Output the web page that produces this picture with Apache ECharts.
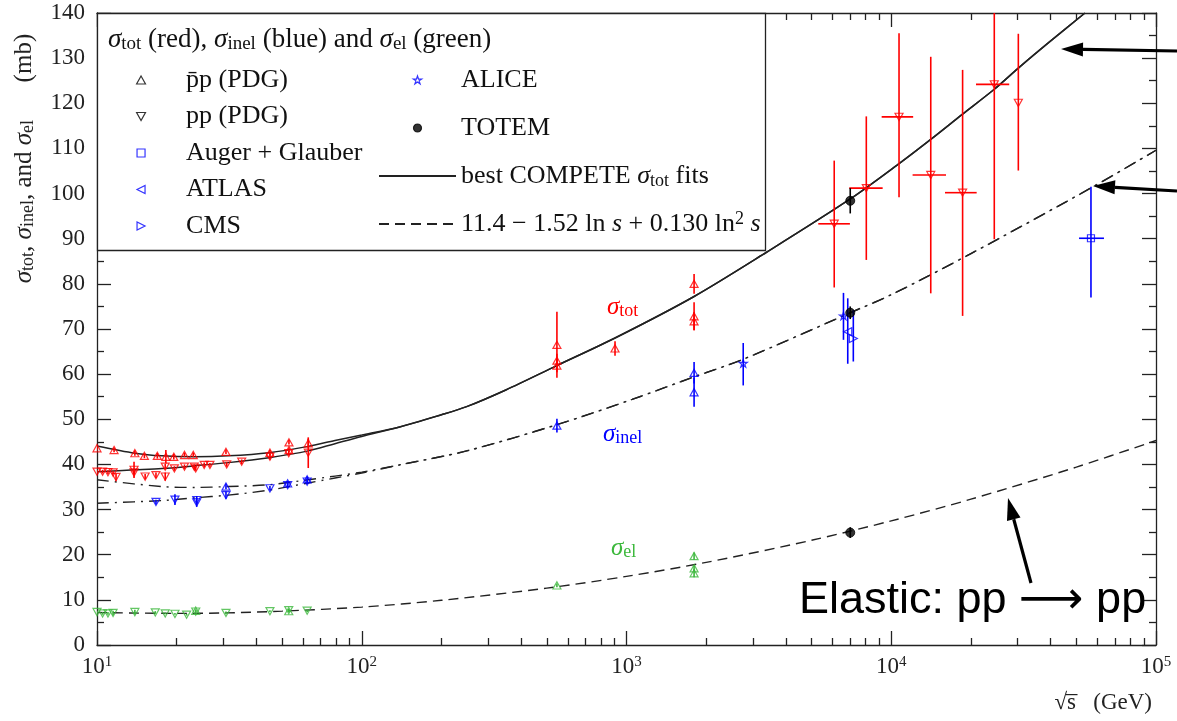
<!DOCTYPE html>
<html><head><meta charset="utf-8">
<script src="https://cdn.jsdelivr.net/npm/echarts@6/dist/echarts.min.js"></script>
<style>html,body{margin:0;padding:0;background:#fff}#c{width:1177px;height:721px}</style>
</head><body><div id="c"></div>
<script>
// ---------------- tick labels ----------------
const xTickValues = [10, 100, 1000, 10000, 100000];
const xTickExponents = ['1', '2', '3', '4', '5'];
const xMinorMultipliers = [2, 3, 4, 5, 6, 7, 8, 9];
const xMinorDecades = [10, 100, 1000, 10000];
const yTickLabels = ['0','10','20','30','40','50','60','70','80','90','100','110','120','130','140'];

// ---------------- data: [sqrt(s) GeV, sigma mb, error mb] ----------------
const pbarpTot = [[10.0,43.6,0.5],[11.6,43.2,0.5],[13.9,42.5,0.6],[15.1,41.9,0.5],[16.9,41.9,0.6],[18.2,41.7,1.5],[19.5,41.7,0.6],[21.4,42.1,0.5],[23.1,42.1,0.5],[30.7,42.8,0.5],[45.0,42.6,0.6],[53.1,44.9,0.5],[53.1,43.2,0.5],[62.8,44.7,1.0],
  [546,66.5,7.3],[546,63.0,1.5],[546,61.9,1.5],[905,65.7,1.6],[1800,80.0,2.2],[1800,72.8,3.1],[1800,71.7,2.0]];
const ppTot = [[10.0,38.4,0.4],[10.5,38.4,0.4],[11.0,38.3,0.4],[11.5,38.2,0.4],[11.8,37.2,0.8],[13.8,38.8,1.8],[13.8,38.2,0.5],[15.2,37.3,0.6],[16.7,37.6,0.6],[18.1,37.3,0.9],[18.1,39.5,0.6],[19.6,39.1,0.5],[21.4,39.5,0.5],[23.3,39.5,0.5],[23.6,39.1,0.5],[25.4,39.9,0.5],[26.7,39.9,0.4],[30.9,40.0,0.5],[35.2,40.6,0.5],[45.0,41.7,0.6],[53.0,42.5,0.5],[62.8,42.6,3.4]];
// cosmic-ray pp total: [sqrt(s), sigma, low, high, sqrt(s) low, sqrt(s) high]
const ppTotCosmic = [[6090,93.3,79.2,107.3,5300,6980],[8050,101.2,85.3,117.1,6940,9280],[10700,117.0,99.2,135.5,9200,12100],[14100,104.1,77.9,130.3,12040,16100],[18600,100.2,72.9,127.4,15960,21020],[24500,124.2,89.9,158.0,20900,27900],[30200,120.1,105.1,135.4,30200,30200]];
const pbarpInel = [[30.7,35.1,0.6],[52.5,35.8,0.5],[62.2,36.7,0.6],[546,48.6,1.5],[1800,60.3,2.4],[1800,56.0,3.2]];
const ppInel = [[16.7,31.7,0.5],[19.7,32.2,1.2],[23.8,32.1,0.9],[23.8,31.6,1.0],[30.7,33.2,0.8],[45.0,34.7,0.5],[52.5,35.4,0.5],[62.2,36.2,0.5]];
const pbarpEl = [[23.6,7.6,0.3],[53.0,7.5,0.3],[546,13.2,0.4],[1800,19.7,0.8],[1800,17.0,0.6],[1800,15.9,0.9]];
const ppEl = [[10.0,7.3,0.3],[10.5,7.0,0.3],[11.0,7.0,0.3],[11.5,7.1,0.5],[13.9,7.3,0.5],[16.6,7.2,0.3],[18.1,7.0,0.2],[19.7,6.9,0.2],[21.8,6.7,0.2],[23.6,7.4,0.4],[30.7,7.1,0.3],[45.0,7.5,0.2],[53.0,7.7,0.3],[62.2,7.6,0.3]];
const augerInel = [[56800,90.1,77.0,101.5,51200,63600]];
const atlasInel = [[6850,69.4,62.3,76.8]];
const cmsInel = [[7190,67.9,62.8,74.2]];
const aliceInel = [[2760,62.4,57.5,66.9],[6600,72.9,67.6,78.0]];
const totemTot = [[7000,98.4,95.6,101.2]];
const totemInel = [[7000,73.6,72.2,75.0]];
const totemEl = [[7000,24.9,23.7,26.1]];

// ---------------- fitted curves: [sqrt(s), sigma] ----------------
const fitTotHigh = [[139,48.3],[200,51.0],[249,52.8],[350,56.5],[546,61.9],[905,68.0],[1800,77.2],[3380,87.0],[7000,98.8],[10800,106.8],[14100,112.0],[18600,117.6],[24500,123.1],[30200,127.8],[39600,133.6],[53900,140.0]];
const fitTotPbarpLow = [[10,44.1],[13.9,42.5],[17.6,41.9],[23.4,41.7],[31.3,41.9],[44.6,42.6],[62.8,44.0],[79.2,45.3],[100,46.5]];
const fitTotPpLow = [[10,38.4],[13.9,38.8],[17.6,39.1],[23.4,39.7],[31.3,40.4],[44.6,41.5],[62.8,43.0],[79.2,44.6],[100,46.2]];
const fitInelHigh = [[139,39.9],[249,43.0],[546,48.8],[1050,54.4],[1800,59.4],[2760,63.3],[7000,73.6],[10000,77.6],[20000,86.7],[57000,101.3],[100000,109.6]];
const fitInelPbarpLow = [[10,36.6],[17.6,35.1],[23.4,34.9],[31.3,35.1],[44.6,35.5],[62.8,36.6],[100,38.3]];
const fitInelPpLow = [[10,31.4],[17.6,32.0],[23.4,32.6],[31.3,33.2],[44.6,34.3],[62.8,35.9],[100,38.1]];
const fitEl = [[10,7.2],[20,7.0],[30,7.1],[50,7.5],[100,8.4],[200,9.9],[500,12.6],[1000,15.2],[2000,18.3],[5000,23.2],[10000,27.5],[20000,32.3],[50000,39.4],[100000,45.3]];

// ---------------- styling ----------------
const SERIF = '"Liberation Serif", "DejaVu Serif", serif';
const SANS = '"Liberation Sans", "DejaVu Sans", sans-serif';
const RED = '#ff0000', BLUE = '#0000ff', GREEN = '#3cb83c', BLACK = '#000000';
const SYM = {
  up: 'path://M5,0L10,9L0,9Z',
  down: 'path://M0,0L10,0L5,9Z',
  left: 'path://M10,0L10,10L0,5Z',
  right: 'path://M0,0L0,10L10,5Z',
  square: 'path://M0,0L10,0L10,10L0,10Z',
  star: 'path://M5,0L6.2,3.6L10,3.6L6.9,5.8L8.1,9.5L5,7.2L1.9,9.5L3.1,5.8L0,3.6L3.8,3.6Z'
};
const NAME_FORMULA = '11.4 − 1.52 ln s + 0.130 ln² s';
const NAME_FIT = 'best COMPETE σtot fits';
const legendText = {};
legendText[NAME_FIT] = 'best COMPETE {i|σ}{sub|tot} fits';
legendText[NAME_FORMULA] = '11.4 − 1.52 ln {i|s} + 0.130 ln{sup|2} {i|s}';

function richSet(size, lh) {
  return {
    i: {fontFamily: SERIF, fontStyle: 'italic', fontSize: size, lineHeight: lh},
    sub: {fontFamily: SERIF, fontSize: Math.round(size * 0.7), lineHeight: Math.round(size * 0.55), verticalAlign: 'bottom'},
    sup: {fontFamily: SERIF, fontSize: Math.round(size * 0.68), lineHeight: Math.round(size * 0.55), verticalAlign: 'top'}
  };
}

// ---------------- error bars ----------------
const errRows = [], errColors = [];
function addSym(arr, color) { arr.forEach(d => { errRows.push([d[0], d[1], d[1] - d[2], d[1] + d[2], d[0], d[0]]); errColors.push(color); }); }
function addAsym(arr, color) { arr.forEach(d => { errRows.push([d[0], d[1], d[2], d[3], d.length > 4 ? d[4] : d[0], d.length > 4 ? d[5] : d[0]]); errColors.push(color); }); }
addSym(pbarpTot, RED); addSym(ppTot, RED); addAsym(ppTotCosmic, RED);
addSym(pbarpInel, BLUE); addSym(ppInel, BLUE); addSym(pbarpEl, GREEN); addSym(ppEl, GREEN);
addAsym(augerInel, BLUE); addAsym(atlasInel, BLUE); addAsym(cmsInel, BLUE); addAsym(aliceInel, BLUE);
addAsym(totemTot, BLACK); addAsym(totemInel, BLACK); addAsym(totemEl, BLACK);

function pts(arr, color) { return arr.map(d => ({value: [d[0], d[1]], itemStyle: {borderColor: color}})); }
function hollow(sym, data, name, size) {
  return {
    type: 'scatter', name: name, symbol: sym, symbolSize: size || 8, symbolKeepAspect: true, z: 4,
    itemStyle: {color: 'rgba(255,255,255,0)', borderColor: BLACK, borderWidth: 1.2},
    data: data
  };
}
function curve(name, data, type, width) {
  return {type: 'line', name: name, data: data, smooth: 0.3, symbol: 'none', showSymbol: false, z: 2, silent: true,
    lineStyle: {color: '#222', width: width || 1.4, type: type}};
}

const minorTicks = [];
xMinorDecades.forEach(d => xMinorMultipliers.forEach(m => minorTicks.push(d * m)));

function legendItem(name, icon, color, fill) {
  return {name: name, icon: icon, itemStyle: {color: fill || 'rgba(255,255,255,0)', borderColor: color, borderWidth: 1.2}};
}
function legendLine(name) {
  return {name: name, itemStyle: {color: 'rgba(0,0,0,0)', borderColor: 'rgba(0,0,0,0)', borderWidth: 0, opacity: 0}};
}

function arrow(x1, y1, x2, y2) {
  const ang = Math.atan2(y2 - y1, x2 - x1), L = 22, W = 7;
  const bx = x2 - L * Math.cos(ang), by = y2 - L * Math.sin(ang);
  const px = -Math.sin(ang) * W, py = Math.cos(ang) * W;
  return [
    {type: 'line', z: 20, shape: {x1: x1, y1: y1, x2: bx, y2: by}, style: {stroke: '#000', lineWidth: 3.2}},
    {type: 'polygon', z: 20, shape: {points: [[x2, y2], [bx + px, by + py], [bx - px, by - py]]}, style: {fill: '#000'}}
  ];
}

const LEG_FONT = 26, LEG_LH = 28;
const legendTextStyle = {fontFamily: SERIF, fontSize: LEG_FONT, lineHeight: LEG_LH, color: '#111', rich: richSet(LEG_FONT, LEG_LH)};

const chart = echarts.init(document.getElementById('c'), null, {renderer: 'canvas'});
const axisLineStyle = {color: '#222', width: 1.3};
const option = {
  backgroundColor: '#ffffff',
  animation: false,
  textStyle: {fontFamily: SERIF},
  grid: {left: 97, right: 21, top: 13, bottom: 76},
  title: {
    text: '{i|σ}{sub|tot} (red), {i|σ}{sub|inel} (blue) and {i|σ}{sub|el} (green)',
    left: 108, top: 26, padding: 0, z: 12,
    textStyle: {fontFamily: SERIF, fontSize: 27, lineHeight: LEG_LH, fontWeight: 'normal', color: '#111', rich: richSet(27, LEG_LH)}
  },
  legend: [
    {
      id: 'legLeft', orient: 'vertical', left: 136, top: 66, padding: 0, itemWidth: 80, itemHeight: 8, itemGap: 8.5,
      align: 'left', selectedMode: false, z: 12, symbolKeepAspect: true,
      textStyle: legendTextStyle,
      formatter: n => legendText[n] || n,
      data: [legendItem('p\u0304p (PDG)', SYM.up, BLACK), legendItem('pp (PDG)', SYM.down, BLACK),
             legendItem('Auger + Glauber', SYM.square, BLUE), legendItem('ATLAS', SYM.left, BLUE), legendItem('CMS', SYM.right, BLUE)]
    },
    {
      id: 'legRight', orient: 'vertical', left: 378, top: 66, padding: 0, itemWidth: 77, itemHeight: 8, itemGap: 20,
      align: 'left', selectedMode: false, z: 12, symbolKeepAspect: true,
      textStyle: legendTextStyle,
      formatter: n => legendText[n] || n,
      data: [legendItem('ALICE', SYM.star, BLUE), legendItem('TOTEM', 'circle', BLACK, BLACK),
             legendLine(NAME_FIT), legendLine(NAME_FORMULA)]
    }
  ],
  xAxis: [
    {
      type: 'log', logBase: 10, min: 10, max: 100000, position: 'bottom',
      axisLine: {show: true, lineStyle: axisLineStyle},
      axisTick: {show: true, inside: true, length: 14, lineStyle: axisLineStyle},
      splitLine: {show: false},
      axisLabel: {
        margin: 10, color: '#222', fontFamily: SERIF, fontSize: 23, lineHeight: 24,
        formatter: v => { const i = xTickValues.findIndex(t => Math.abs(t - v) / t < 1e-6); return i < 0 ? '' : '{b|10}{e|' + xTickExponents[i] + '}'; },
        rich: {b: {fontFamily: SERIF, fontSize: 23, lineHeight: 24, color: '#222'},
               e: {fontFamily: SERIF, fontSize: 15, lineHeight: 12, verticalAlign: 'top', color: '#222'}}
      },
      name: '\u221As\u0305   (GeV)', nameLocation: 'end', nameGap: -4,
      nameTextStyle: {fontFamily: SERIF, fontSize: 23, color: '#222', align: 'right', verticalAlign: 'top', padding: [46, 0, 0, 0]}
    },
    {
      type: 'log', logBase: 10, min: 10, max: 100000, position: 'bottom',
      axisLine: {show: false}, axisLabel: {show: false}, splitLine: {show: false},
      axisTick: {show: true, inside: true, length: 7, customValues: minorTicks, lineStyle: axisLineStyle}
    },
    {
      type: 'log', logBase: 10, min: 10, max: 100000, position: 'top',
      axisLine: {show: true, lineStyle: axisLineStyle}, axisLabel: {show: false}, splitLine: {show: false},
      axisTick: {show: true, inside: true, length: 14, lineStyle: axisLineStyle}
    },
    {
      type: 'log', logBase: 10, min: 10, max: 100000, position: 'top',
      axisLine: {show: false}, axisLabel: {show: false}, splitLine: {show: false},
      axisTick: {show: true, inside: true, length: 7, customValues: minorTicks, lineStyle: axisLineStyle}
    }
  ],
  yAxis: [
    {
      type: 'value', min: 0, max: 140, interval: 10, position: 'left',
      axisLine: {show: true, lineStyle: axisLineStyle},
      axisTick: {show: true, inside: true, length: 14, lineStyle: axisLineStyle},
      minorTick: {show: true, splitNumber: 2, length: 7, lineStyle: axisLineStyle},
      splitLine: {show: false},
      axisLabel: {margin: 12, color: '#222', fontFamily: SERIF, fontSize: 23, formatter: v => yTickLabels[Math.round(v / 10)]},
      name: '{i|σ}{sub|tot}, {i|σ}{sub|inel}, and {i|σ}{sub|el}      (mb)',
      nameLocation: 'middle', nameRotate: 90, nameGap: 60,
      nameTextStyle: {fontFamily: SERIF, fontSize: 25, lineHeight: 26, color: '#222', padding: [0, 0, 0, 341], rich: richSet(25, 26)}
    },
    {
      type: 'value', min: 0, max: 140, interval: 10, position: 'right',
      axisLine: {show: true, lineStyle: axisLineStyle},
      axisTick: {show: true, inside: true, length: 14, lineStyle: axisLineStyle},
      minorTick: {show: true, splitNumber: 2, length: 7, lineStyle: axisLineStyle},
      splitLine: {show: false}, axisLabel: {show: false}
    }
  ],
  series: [
    curve(NAME_FIT, fitTotPbarpLow.concat(fitTotHigh), 'solid', 1.5),
    curve(NAME_FIT, fitTotPpLow.concat(fitTotHigh), 'solid', 1.5),
    curve('σinel fits', fitInelPbarpLow.concat(fitInelHigh), [12, 6, 2, 6], 1.4),
    curve('σinel fits', fitInelPpLow.concat(fitInelHigh), [12, 6, 2, 6], 1.4),
    curve(NAME_FORMULA, fitEl, [10, 6], 1.4),
    {
      type: 'custom', name: 'errors', z: 3, clip: true, silent: true,
      encode: {x: 0, y: 1},
      data: errRows,
      renderItem: function (params, api) {
        const x = api.value(0), y = api.value(1);
        const lo = api.coord([x, api.value(2)]), hi = api.coord([x, api.value(3)]);
        const col = errColors[params.dataIndex];
        const children = [{type: 'line', shape: {x1: lo[0], y1: lo[1], x2: hi[0], y2: hi[1]}, style: {stroke: col, lineWidth: 1.6}}];
        const xl = api.value(4), xh = api.value(5);
        if (xh > xl) {
          const a = api.coord([xl, y]), b = api.coord([xh, y]);
          children.push({type: 'line', shape: {x1: a[0], y1: a[1], x2: b[0], y2: b[1]}, style: {stroke: col, lineWidth: 1.6}});
        }
        return {type: 'group', children: children};
      }
    },
    hollow(SYM.up, pts(pbarpTot, RED).concat(pts(pbarpInel, BLUE), pts(pbarpEl, GREEN)), 'p\u0304p (PDG)'),
    hollow(SYM.down, pts(ppTot, RED).concat(pts(ppTotCosmic, RED), pts(ppInel, BLUE), pts(ppEl, GREEN)), 'pp (PDG)'),
    hollow(SYM.square, pts(augerInel, BLUE), 'Auger + Glauber', 7),
    hollow(SYM.left, pts(atlasInel, BLUE), 'ATLAS'),
    hollow(SYM.right, pts(cmsInel, BLUE), 'CMS'),
    hollow(SYM.star, pts(aliceInel, BLUE), 'ALICE'),
    {
      type: 'scatter', name: 'TOTEM', symbol: 'circle', symbolSize: 9, z: 5,
      itemStyle: {color: BLACK},
      data: pts(totemTot, BLACK).concat(pts(totemInel, BLACK), pts(totemEl, BLACK))
    }
  ],
  graphic: [
    {type: 'rect', z: 8, shape: {x: 97.5, y: 13.5, width: 668, height: 237}, style: {fill: '#ffffff', stroke: '#222', lineWidth: 1.3}},
    {type: 'text', z: 20, x: 607, y: 307, style: {text: '{i|σ}{sub|tot}', fill: RED, fontFamily: SERIF, fontSize: 25, lineHeight: 26, verticalAlign: 'middle', rich: richSet(25, 26)}},
    {type: 'text', z: 20, x: 603, y: 434, style: {text: '{i|σ}{sub|inel}', fill: BLUE, fontFamily: SERIF, fontSize: 25, lineHeight: 26, verticalAlign: 'middle', rich: richSet(25, 26)}},
    {type: 'text', z: 20, x: 611, y: 548, style: {text: '{i|σ}{sub|el}', fill: GREEN, fontFamily: SERIF, fontSize: 25, lineHeight: 26, verticalAlign: 'middle', rich: richSet(25, 26)}},
    {type: 'text', z: 20, x: 799, y: 601, style: {text: 'Elastic: pp \u27F6 pp', fill: '#000', fontFamily: SANS, fontSize: 45, verticalAlign: 'middle'}}
  ].concat(arrow(1177, 51, 1061, 49), arrow(1177, 191, 1093, 186), arrow(1031, 583, 1008, 498))
};
chart.setOption(option);
</script></body></html>
